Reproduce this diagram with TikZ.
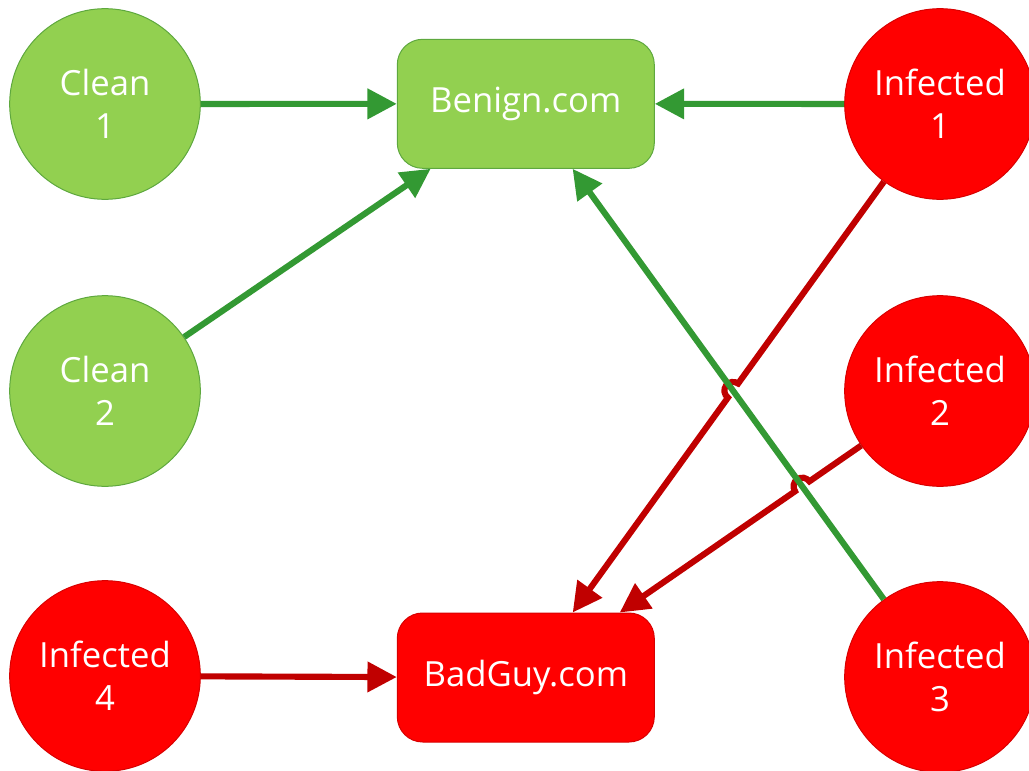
\documentclass[tikz,border=0pt]{standalone}
\usepackage{fontspec}
\setmainfont{Open Sans}
\usetikzlibrary{arrows.meta,calc,intersections}

\definecolor{leaf}{HTML}{92D050}
\definecolor{leafline}{HTML}{5EA83E}
\definecolor{linkgreen}{HTML}{339933}
\definecolor{alarm}{HTML}{FF0000}
\definecolor{alarmline}{HTML}{D80000}
\definecolor{linkred}{HTML}{C00000}

\begin{document}
\begin{tikzpicture}[x=0.75pt,y=0.75pt,
  host/.style={circle, minimum size=143pt, inner sep=0pt, line width=0.75pt,
    text=white, align=center, font=\fontsize{26}{32}\selectfont},
  cleanhost/.style={host, fill=leaf, draw=leafline},
  badhost/.style={host, fill=alarm, draw=alarmline},
  site/.style={rectangle, rounded corners=19pt, minimum width=192.75pt,
    minimum height=96.75pt, inner sep=0pt, line width=0.75pt,
    text=white, font=\fontsize{26}{32}\selectfont},
  goodsite/.style={site, fill=leaf, draw=leafline},
  badsite/.style={site, fill=alarm, draw=alarmline},
  link/.style={line width=4.6pt, -{Triangle[length=22pt,width=22pt]}},
  goodlink/.style={link, draw=linkgreen},
  badlink/.style={link, draw=linkred}
]
\useasboundingbox (0,0) rectangle (1029,-771);

% hosts
\node[cleanhost] (clean1) at (105,-104) {Clean\\1};
\node[cleanhost] (clean2) at (105,-391) {Clean\\2};
\node[badhost]   (inf4)   at (105,-676) {Infected\\4};
\node[badhost]   (inf1)   at (940,-104) {Infected\\1};
\node[badhost]   (inf2)   at (940,-391) {Infected\\2};
\node[badhost]   (inf3)   at (940,-677) {Infected\\3};

% sites
\node[goodsite] (benign) at (525.8,-103.8) {Benign.com};
\node[badsite]  (badguy) at (525.8,-677.5) {BadGuy.com};

% crossing points of the red and green links
\path[name path=g3] (inf3.center) -- (benign.center);
\path[name path=r1] (inf1.center) -- (badguy.center);
\path[name path=r2] (inf2.center) -- (badguy.center);
\path[name intersections={of=g3 and r1, by=X1}];
\path[name intersections={of=g3 and r2, by=X2}];

% red links, hopping over the green one
\draw[badlink] (inf4) -- (badguy);
\draw[badlink] let \p1=($(inf1)-(X1)$), \n1={atan2(\y1,\x1)} in
  (inf1) -- ($(X1)!6.5pt!(inf1)$) arc[start angle=\n1, delta angle=180, radius=6.5pt] -- (badguy);
\draw[badlink] let \p1=($(inf2)-(X2)$), \n1={atan2(\y1,\x1)} in
  (inf2) -- ($(X2)!6.5pt!(inf2)$) arc[start angle=\n1, delta angle=180, radius=6.5pt] -- (badguy);

% green links
\draw[goodlink] (clean1) -- (benign);
\draw[goodlink] (clean2) -- (benign);
\draw[goodlink] (inf1) -- (benign);
\draw[goodlink] (inf3) -- (benign);
\end{tikzpicture}
\end{document}
